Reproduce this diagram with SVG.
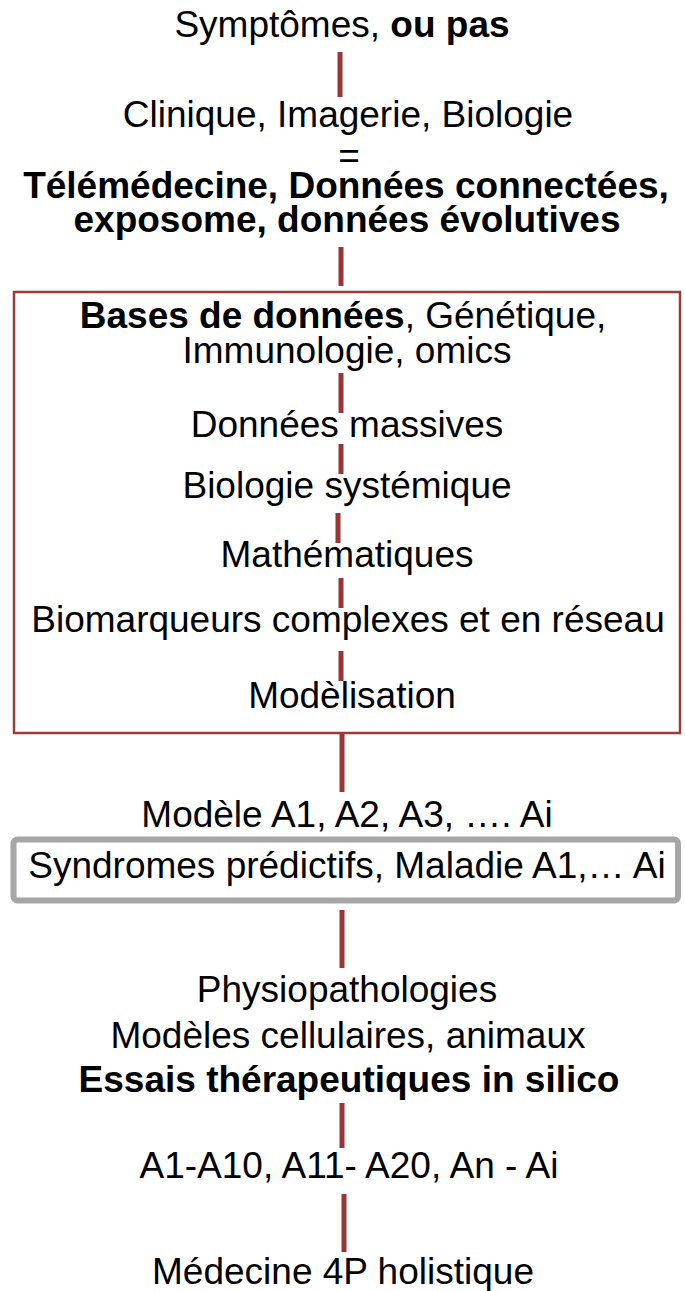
<svg xmlns="http://www.w3.org/2000/svg" width="685" height="1291" viewBox="0 0 685 1291">
<style>
text{font-family:"Liberation Sans",Arial,sans-serif;font-size:37px;fill:#000;text-anchor:middle}
.b{font-weight:bold}
.c{stroke:#953735;stroke-width:5;fill:none}
</style>
<rect width="685" height="1291" fill="#fff"/>
<g id="connectors">
<line class="c" x1="340" y1="52" x2="340" y2="97"/>
<line class="c" x1="341" y1="247" x2="341" y2="286"/>
<line class="c" x1="341" y1="373" x2="341" y2="413"/>
<line class="c" x1="341" y1="444" x2="341" y2="474"/>
<line class="c" x1="338" y1="513" x2="338" y2="543"/>
<line class="c" x1="341" y1="578" x2="341" y2="608"/>
<line class="c" x1="341" y1="651" x2="341" y2="681"/>
<line class="c" x1="342" y1="733" x2="342" y2="792"/>
<line class="c" x1="342" y1="910" x2="342" y2="968"/>
<line class="c" x1="342" y1="1103" x2="342" y2="1148"/>
<line class="c" x1="344" y1="1194" x2="344" y2="1252"/>
</g>
<g id="n-symptomes"><text x="342" y="37">Symptômes, <tspan class="b">ou pas</tspan></text></g>
<g id="n-clinique">
<text x="348" y="127">Clinique, Imagerie, Biologie</text>
<text x="349" y="168">=</text>
<text class="b" x="346" y="198">Télémédecine, Données connectées,</text>
<text class="b" x="347" y="232">exposome, données évolutives</text>
</g>
<g id="n-box">
<rect x="14" y="292" width="666" height="441" fill="none" stroke="#9d3b3b" stroke-width="2.5"/>
<text x="343" y="328"><tspan class="b">Bases de données</tspan>, Génétique,</text>
<text x="347" y="363">Immunologie, omics</text>
<text x="347" y="437">Données massives</text>
<text x="347" y="498">Biologie systémique</text>
<text x="347" y="567">Mathématiques</text>
<text x="348" y="632">Biomarqueurs complexes et en réseau</text>
<text x="352" y="708">Modèlisation</text>
</g>
<g id="n-modele"><text x="347" y="827">Modèle A1, A2, A3, …. Ai</text></g>
<g id="n-syndromes">
<rect x="13.5" y="839.5" width="664.5" height="61" rx="4" fill="#fff" stroke="#a6a6a6" stroke-width="6"/>
<text x="347" y="878">Syndromes prédictifs, Maladie A1,… Ai</text>
</g>
<g id="n-physio">
<text x="347" y="1002">Physiopathologies</text>
<text x="348" y="1048">Modèles cellulaires, animaux</text>
<text class="b" x="349" y="1092">Essais thérapeutiques in silico</text>
</g>
<g id="n-a1"><text x="349" y="1178">A1-A10, A11- A20, An - Ai</text></g>
<g id="n-medecine"><text x="343" y="1284">Médecine 4P holistique</text></g>
</svg>
